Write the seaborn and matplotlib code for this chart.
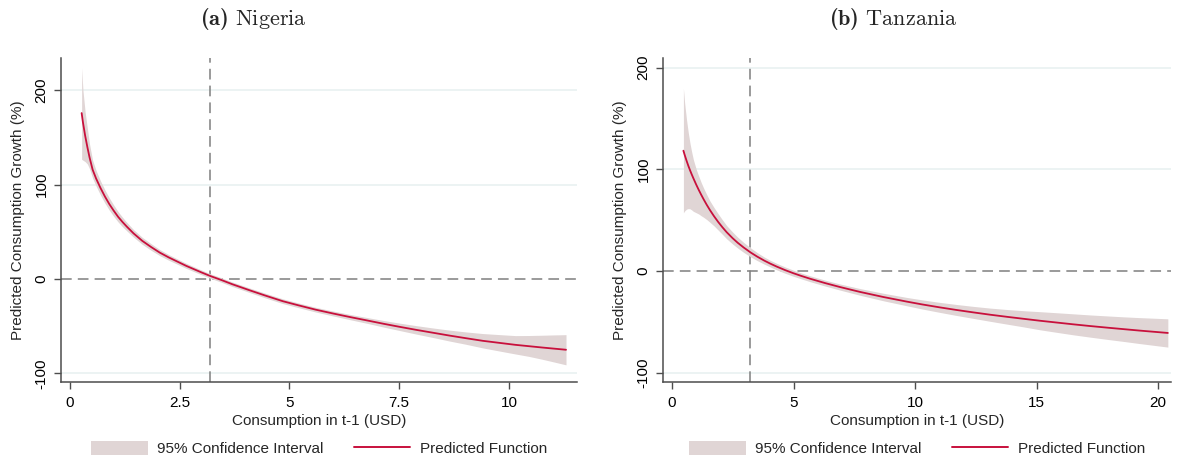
import matplotlib
matplotlib.use("Agg")
import matplotlib.pyplot as plt
import seaborn as sns
import pandas as pd
from matplotlib.patches import Patch
from matplotlib.lines import Line2D

# Nigeria: predicted consumption growth (%) vs consumption in t-1 (USD)
ng_x = [0.27, 0.3, 0.35, 0.4, 0.45, 0.52, 0.6, 0.7, 0.8, 0.9, 1.0, 1.1, 1.2, 1.3,
        1.45, 1.65, 1.85, 2.05, 2.25, 2.45, 2.65, 2.8, 3.0, 3.2, 3.45, 3.7, 4.1,
        4.45, 4.85, 5.2, 5.6, 6.0, 6.4, 6.8, 7.15, 7.5, 7.9, 8.3, 8.65, 9.0, 9.4,
        9.8, 10.15, 10.45, 10.75, 11.0, 11.3]
ng_pred = [176, 166, 152, 140, 129, 116, 106.5, 96.5, 87.5, 79.5, 72.5, 66, 60.5, 55.5,
           48.5, 40.5, 34, 28, 23, 18.5, 14, 11, 7, 3.2, -1, -5.5, -12,
           -17.5, -23.5, -27.8, -32.5, -36.6, -40.5, -44.2, -47.5, -50.6, -54, -57.2, -60, -62.6, -65.5,
           -67.8, -69.8, -71.2, -72.6, -73.7, -75]
ng_upper = [224, 200, 177, 160, 143, 126, 115, 104, 94.5, 86, 78.5, 71.5, 65.5, 60,
            52.5, 44.2, 37.5, 31.2, 26, 21.3, 16.7, 13.6, 9.5, 5.6, 1.4, -3.1, -9.6,
            -15, -21, -25.3, -30, -34, -37.7, -41.1, -44, -46.7, -49.5, -52.1, -54.2, -56, -57.8,
            -59, -60, -59.9, -59.6, -59.3, -59]
ng_lower = [127, 126, 124.5, 122, 117, 107, 98.5, 89, 80.5, 73, 66.5, 60.5, 55.5, 51,
            44.5, 36.8, 30.5, 24.8, 20, 15.7, 11.3, 8.4, 4.5, 0.8, -3.4, -7.9, -14.4,
            -20, -26, -30.3, -35, -39.2, -43.3, -47.3, -51, -54.5, -58.5, -62.3, -65.8, -69, -73,
            -76.5, -79.5, -82, -85, -87.7, -91]

# Tanzania
tz_x = [0.47, 0.52, 0.6, 0.67, 0.74, 0.81, 0.88, 1.0, 1.1, 1.2, 1.3, 1.43, 1.56, 1.73,
        1.9, 2.07, 2.25, 2.5, 2.7, 2.95, 3.24, 3.5, 3.8, 4.05, 4.31, 4.65, 5.0, 5.3,
        5.68, 6.3, 6.9, 7.74, 8.7, 9.66, 10.3, 11, 11.7, 12.4, 13.1, 13.8, 14.5, 15.14,
        15.8, 16.5, 17.2, 18, 18.6, 19.2, 19.8, 20.4]
tz_pred = [118.3, 114.3, 108.4, 103.6, 99.2, 95.1, 91.2, 84.8, 79.8, 75.1, 70.6, 65.1, 60.0, 53.9,
           48.3, 43.2, 38.2, 32.2, 27.9, 23.15, 18.2, 14.3, 10.25, 7.25, 4.4, 1.0, -2.15, -4.6,
           -7.5, -11.8, -15.6, -20.5, -25.5, -30.0, -32.8, -35.6, -38.2, -40.6, -42.9, -45.0, -47.0, -48.8,
           -50.5, -52.3, -54.0, -55.8, -57.1, -58.4, -59.6, -60.8]
tz_upper = [179.6, 165.3, 148.4, 136.1, 125.7, 117.1, 109.5, 99.8, 93.3, 87.1, 81.6, 75.1, 69.0, 62.4,
            56.3, 50.5, 44.7, 38.2, 33.4, 28.15, 22.7, 18.3, 13.75, 10.5, 7.6, 4.1, 0.85, -1.7,
            -4.6, -8.9, -12.6, -17.2, -21.8, -25.9, -28.3, -30.7, -32.8, -34.7, -36.4, -37.8, -39.0, -39.9,
            -40.9, -42.0, -43.1, -44.2, -45.0, -45.7, -46.3, -46.9]
tz_lower = [57.3, 59.1, 60.9, 61.4, 61.2, 60.1, 58.7, 57.3, 56.1, 54.4, 52.9, 50.6, 48.0, 44.4,
            40.3, 36.2, 31.7, 26.5, 22.7, 18.35, 13.9, 10.4, 6.75, 4.0, 1.2, -2.1, -5.15, -7.5,
            -10.4, -14.7, -18.6, -23.8, -29.2, -34.1, -37.3, -40.5, -43.6, -46.5, -49.4, -52.2, -55.0, -57.7,
            -60.1, -62.6, -64.9, -67.4, -69.2, -71.1, -72.9, -74.7]

PANELS = [
    ("a", "Nigeria", ng_x, ng_pred, ng_upper, ng_lower, [0, 2.5, 5, 7.5, 10],
     ["0", "2.5", "5", "7.5", "10"], (-0.2, 11.55), (-109.2, 234.4)),
    ("b", "Tanzania", tz_x, tz_pred, tz_upper, tz_lower, [0, 5, 10, 15, 20],
     ["0", "5", "10", "15", "20"], (-0.37, 20.53), (-109, 209.4)),
]
POVERTY_LINE = 3.2

CI_COLOR = "#e0d5d5"
LINE_COLOR = "#c8103c"
REF_COLOR = "#7f7f7f"
GRID_COLOR = "#e9f1f1"
SPINE_COLOR = "#4d4d4d"

sns.set_theme(style="white")
plt.rcParams["font.family"] = ["Liberation Sans", "DejaVu Sans"]
plt.rcParams["mathtext.fontset"] = "custom"
plt.rcParams["mathtext.rm"] = "cmr10"
plt.rcParams["mathtext.bf"] = "cmb10"

W, H = 1182, 459
fig = plt.figure(figsize=(W / 100, H / 100), dpi=100)
axes_px = [(61, 577), (663, 1171)]
title_x = [253, 893]

for (letter, name, x, pred, upper, lower, xt, xtl, xlim, ylim), (l, r), tx in zip(
    PANELS, axes_px, title_x
):
    ax = fig.add_axes([l / W, (H - 382) / H, (r - l) / W, 324 / H])
    df = pd.DataFrame({"x": x, "pred": pred, "upper": upper, "lower": lower})

    for yv in [-100, 100, 200]:
        ax.axhline(yv, color=GRID_COLOR, lw=1.2, zorder=0)
    ax.axhline(0, color=REF_COLOR, lw=1.1, ls=(0, (7, 4)), zorder=1)
    ax.axvline(POVERTY_LINE, color=REF_COLOR, lw=1.1, ls=(0, (7, 4)), zorder=1)

    ax.fill_between(df["x"], df["lower"], df["upper"], color=CI_COLOR, lw=0, zorder=2)
    sns.lineplot(data=df, x="x", y="pred", color=LINE_COLOR, lw=1.3, ax=ax, zorder=3)

    ax.set_xlim(*xlim)
    ax.set_ylim(*ylim)
    ax.set_xticks(xt)
    ax.set_xticklabels(xtl)
    ax.set_yticks([-100, 0, 100, 200])
    ax.set_yticklabels(["-100", "0", "100", "200"], rotation=90, va="center")
    ax.tick_params(axis="both", which="both", length=5, width=1, color=SPINE_COLOR,
                   labelsize=11, labelcolor="black", direction="out",
                   bottom=True, left=True)
    ax.tick_params(axis="x", pad=5)
    ax.tick_params(axis="y", pad=4)
    for side in ["top", "right"]:
        ax.spines[side].set_visible(False)
    for side in ["left", "bottom"]:
        ax.spines[side].set_color(SPINE_COLOR)
        ax.spines[side].set_linewidth(1.1)
    ax.grid(False)

    ax.set_xlabel("Consumption in t-1 (USD)", fontsize=11, labelpad=3)
    ax.set_ylabel("Predicted Consumption Growth (%)", fontsize=11, labelpad=7)

    handles = [Patch(facecolor=CI_COLOR, edgecolor="none"),
               Line2D([], [], color=LINE_COLOR, lw=1.4)]
    ax.legend(handles, ["95% Confidence Interval", "Predicted Function"],
              loc="center", bbox_to_anchor=(0.5, -0.205), ncol=2, frameon=False,
              fontsize=11, handlelength=3.7, handleheight=1.05, handletextpad=0.6,
              columnspacing=2.0)

    fig.text(tx / W, 1 - 19 / H, r"$\mathbf{(" + letter + r")}\ \mathrm{" + name + r"}$",
             ha="center", va="center", fontsize=16)

fig.savefig("out.png", dpi=100)
